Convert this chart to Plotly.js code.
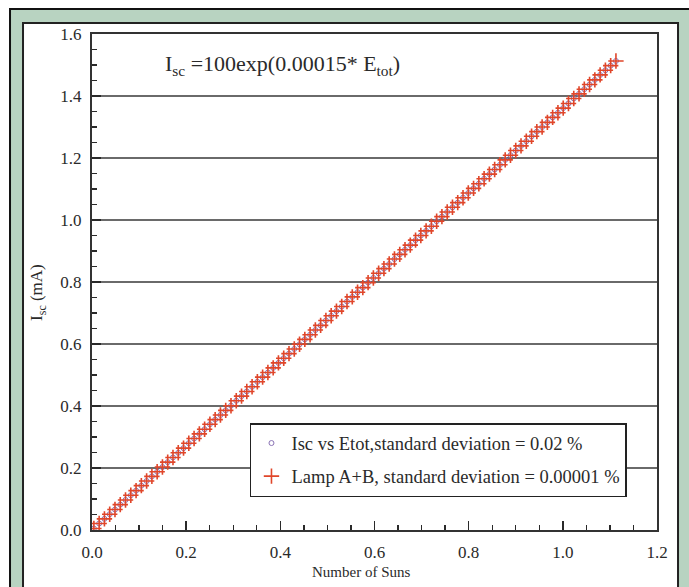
<!DOCTYPE html>
<html>
<head>
<meta charset="utf-8">
<script src="https://cdn.plot.ly/plotly-3.0.1.min.js"></script>
<style>html,body{margin:0;padding:0;background:#fff;}#chart{width:689px;height:587px;}</style>
</head>
<body>
<div id="chart"></div>
<script>
// Number of suns (x) and short-circuit current Isc in mA (y)
const suns = [0.0040,0.0152,0.0264,0.0376,0.0488,0.0600,0.0712,0.0824,0.0936,0.1048,
0.1160,0.1272,0.1384,0.1496,0.1608,0.1720,0.1832,0.1944,0.2056,0.2168,
0.2280,0.2392,0.2504,0.2616,0.2728,0.2840,0.2952,0.3064,0.3176,0.3288,
0.3400,0.3512,0.3624,0.3736,0.3848,0.3960,0.4072,0.4184,0.4296,0.4408,
0.4520,0.4632,0.4744,0.4856,0.4968,0.5080,0.5192,0.5304,0.5416,0.5528,
0.5640,0.5752,0.5864,0.5976,0.6088,0.6200,0.6312,0.6424,0.6536,0.6648,
0.6760,0.6872,0.6984,0.7096,0.7208,0.7320,0.7432,0.7544,0.7656,0.7768,
0.7880,0.7992,0.8104,0.8216,0.8328,0.8440,0.8552,0.8664,0.8776,0.8888,
0.9000,0.9112,0.9224,0.9336,0.9448,0.9560,0.9672,0.9784,0.9896,1.0008,
1.0120,1.0232,1.0344,1.0456,1.0568,1.0680,1.0792,1.0904,1.1016,1.1128];
const iscEtot = [0.005,0.021,0.036,0.051,0.066,0.082,0.097,0.112,0.127,0.143,
0.158,0.173,0.188,0.203,0.219,0.234,0.249,0.264,0.280,0.295,
0.310,0.325,0.341,0.356,0.371,0.386,0.401,0.417,0.432,0.447,
0.462,0.478,0.493,0.508,0.523,0.539,0.554,0.569,0.584,0.599,
0.615,0.630,0.645,0.660,0.676,0.691,0.706,0.721,0.737,0.752,
0.767,0.782,0.798,0.813,0.828,0.843,0.858,0.874,0.889,0.904,
0.919,0.935,0.950,0.965,0.980,0.996,1.011,1.026,1.041,1.056,
1.072,1.087,1.102,1.117,1.133,1.148,1.163,1.178,1.194,1.209,
1.224,1.239,1.254,1.270,1.285,1.300,1.315,1.331,1.346,1.361,
1.376,1.392,1.407,1.422,1.437,1.452,1.468,1.483,1.498,1.513];
const iscLamp = iscEtot.slice();
const seriesNames = ["Isc vs Etot,standard deviation = 0.02 %", "Lamp A+B, standard deviation = 0.00001 %"];
const xTicks = [0, 0.2, 0.4, 0.6, 0.8, 1.0, 1.2];
const xTickText = ["0.0","0.2","0.4","0.6","0.8","1.0","1.2"];
const yTicks = [0, 0.2, 0.4, 0.6, 0.8, 1.0, 1.2, 1.4, 1.6];
const yTickText = ["0.0","0.2","0.4","0.6","0.8","1.0","1.2","1.4","1.6"];

const serif = "Liberation Serif, Times New Roman, serif";
const ink = "#2a2a2a";

const traces = [
  {x: suns, y: iscEtot, name: seriesNames[0], type: "scatter", mode: "markers",
   legendgroup: "a",
   marker: {symbol: "circle-open", size: 5, color: "#8a73b5", line: {width: 1, color: "#8a73b5"}}},
  {x: suns, y: iscLamp, name: seriesNames[1], type: "scatter", mode: "markers",
   legendgroup: "b",
   marker: {symbol: "cross-thin-open", size: 11, color: "#e0462a", line: {width: 1.6, color: "#e0462a"}}}
];

const layout = {
  width: 689, height: 587,
  margin: {l: 92, r: 32, t: 34, b: 57},
  paper_bgcolor: "#ffffff",
  plot_bgcolor: "#ffffff",
  showlegend: true,
  font: {family: serif, color: ink, size: 16},
  xaxis: {
    range: [0, 1.2], tickvals: xTicks, ticktext: xTickText,
    ticks: "inside", ticklen: 9, tickwidth: 1.5, tickcolor: ink,
    minor: {dtick: 0.05, ticks: "inside", ticklen: 5, tickwidth: 1.3, tickcolor: ink},
    showline: true, linecolor: "#333", linewidth: 2, mirror: true,
    showgrid: false, zeroline: false,
    tickfont: {family: serif, size: 17, color: ink},
    ticklabelstandoff: 6
  },
  yaxis: {
    range: [0, 1.6], tickvals: yTicks, ticktext: yTickText,
    ticks: "inside", ticklen: 9, tickwidth: 1.5, tickcolor: ink,
    minor: {dtick: 0.05, ticks: "inside", ticklen: 5, tickwidth: 1.3, tickcolor: ink},
    showline: true, linecolor: "#333", linewidth: 2, mirror: true,
    showgrid: true, gridcolor: "#6a6a6a", gridwidth: 1.2, zeroline: false,
    tickfont: {family: serif, size: 17, color: ink},
    ticklabelstandoff: 5
  },
  legend: {
    x: 0.2796, y: 0.2157, xanchor: "left", yanchor: "top",
    bgcolor: "#ffffff", bordercolor: "#222", borderwidth: 1.5,
    font: {family: serif, size: 18.5, color: ink},
    traceorder: "grouped", tracegroupgap: 6,
    itemsizing: "trace"
  },
  shapes: [
    {type: "rect", xref: "paper", yref: "paper", layer: "below",
     x0: -0.1451, x1: 1.08, y0: -0.15, y1: 1.0504,
     fillcolor: "#b8d3c1", line: {color: "#111", width: 2}},
    {type: "rect", xref: "paper", yref: "paper", layer: "below",
     x0: -0.1221, x1: 1.0372, y0: -0.15, y1: 1.0222,
     fillcolor: "#ffffff", line: {color: "#222", width: 2}}
  ],
  annotations: [
    {xref: "paper", yref: "paper", x: 0.1257, y: 0.9375, xanchor: "left", yanchor: "middle",
     showarrow: false, text: "I<sub>sc</sub> =100exp(0.00015* E<sub>tot</sub>)",
     font: {family: serif, size: 22, color: ink}},
    {xref: "paper", yref: "paper", x: 0.476, y: -0.0847, xanchor: "center", yanchor: "middle",
     showarrow: false, text: "Number of Suns",
     font: {family: serif, size: 15, color: ink}},
    {xref: "paper", yref: "paper", x: -0.0956, y: 0.48, xanchor: "center", yanchor: "middle",
     showarrow: false, textangle: -90, text: "I<sub>sc</sub> (mA)",
     font: {family: serif, size: 17, color: ink}}
  ]
};

Plotly.newPlot("chart", traces, layout, {displayModeBar: false, staticPlot: true});
</script>
</body>
</html>
